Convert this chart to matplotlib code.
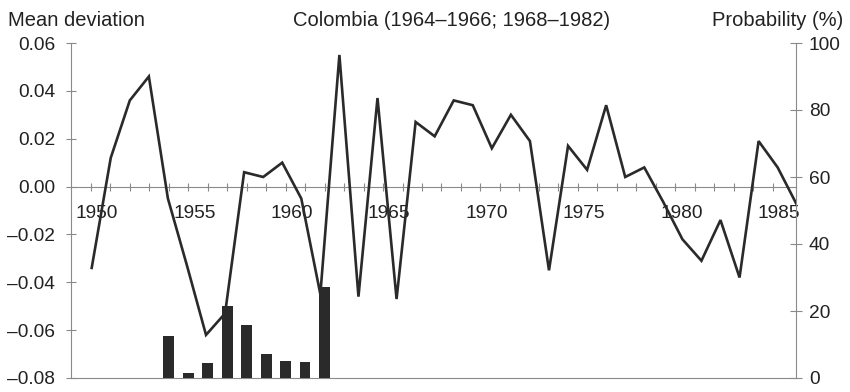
import matplotlib
matplotlib.use("Agg")
import matplotlib.pyplot as plt
from matplotlib.transforms import ScaledTranslation

plt.rcParams["font.family"] = ["Liberation Sans", "DejaVu Sans"]

# ── Data ─────────────────────────────────────────────────────────────────────
line_years = list(range(1950, 1988))
mean_dev = [
    -0.034, 0.012, 0.036, 0.046, -0.005, -0.033, -0.062, -0.053, 0.006, 0.004,
    0.010, -0.005, -0.045, 0.055, -0.046, 0.037, -0.047, 0.027, 0.021, 0.036,
    0.034, 0.016, 0.030, 0.019, -0.035, 0.017, 0.007, 0.034, 0.004, 0.008,
    -0.0065, -0.022, -0.031, -0.014, -0.038, 0.019, 0.008, -0.0075,
]

bar_years = [1954, 1955, 1956, 1957, 1958, 1959, 1960, 1961, 1962]
probability = [12.6, 1.4, 4.6, 21.6, 15.8, 7.1, 5.1, 4.9, 27.1]

tick_years = list(range(1950, 1986))
left_ticks = [-0.08, -0.06, -0.04, -0.02, 0.00, 0.02, 0.04, 0.06]
right_ticks = [0, 20, 40, 60, 80, 100]

TEXT = "#222222"
AXIS = "#8a8a8a"
INK = "#2a2a2a"

# ── Figure / axes ────────────────────────────────────────────────────────────
fig = plt.figure(figsize=(8.5, 3.92), dpi=100)
fig.patch.set_facecolor("white")
ax = fig.add_axes([71 / 850, 14 / 392, 725 / 850, 335 / 392])

ax.set_xlim(1948.98, 1986.2)
ax.set_ylim(-0.08, 0.06)

# year axis runs along the zero line
for side in ("top", "right"):
    ax.spines[side].set_visible(False)
ax.spines["bottom"].set_position(("data", 0))
for side in ("left", "bottom"):
    ax.spines[side].set_color(AXIS)
    ax.spines[side].set_linewidth(0.8)

ax.set_xticks(tick_years)
ax.set_xticklabels([str(y) if y % 5 == 0 else "" for y in tick_years])
ax.tick_params(axis="x", direction="inout", length=6, width=0.8, color=AXIS,
               pad=10, labelsize=13.8, labelcolor=TEXT)
for lab in ax.get_xticklabels():
    lab.set_transform(lab.get_transform() + ScaledTranslation(0.062, 0, fig.dpi_scale_trans))

ax.set_yticks(left_ticks)
ax.set_yticklabels([f"{v:.2f}".replace("-", "\u2013") for v in left_ticks])
ax.tick_params(axis="y", direction="inout", length=7, width=0.8, color=AXIS,
               pad=8, labelsize=13.8, labelcolor=TEXT)

# probability bars on the right-hand scale
ax2 = ax.twinx()
ax2.set_ylim(0, 100)
ax2.set_yticks(right_ticks)
ax2.set_yticklabels([str(v) for v in right_ticks])
for side in ("left", "top"):
    ax2.spines[side].set_visible(False)
for side in ("right", "bottom"):
    ax2.spines[side].set_color(AXIS)
    ax2.spines[side].set_linewidth(0.8)
ax2.tick_params(axis="y", direction="inout", length=8.5, width=0.8, color=AXIS,
                pad=5, labelsize=13.8, labelcolor=TEXT)
ax2.tick_params(axis="x", bottom=False, labelbottom=False)
ax2.bar(bar_years, probability, width=0.55, color=INK, zorder=3)

# mean deviation series on its own year scale
ax_line = ax.twiny()
ax_line.set_xlim(1948.914, 1986.963)
ax_line.axis("off")
ax_line.plot(line_years, mean_dev, color=INK, linewidth=1.9, solid_joinstyle="miter")

# ── Headings ─────────────────────────────────────────────────────────────────
fig.text(8 / 850, 1 - 25.5 / 392, "Mean deviation", ha="left", va="baseline",
         fontsize=14.5, color=TEXT)
fig.text(452 / 850, 1 - 25.5 / 392, "Colombia (1964\u20131966; 1968\u20131982)",
         ha="center", va="baseline", fontsize=14.5, color=TEXT)
fig.text(843 / 850, 1 - 25.5 / 392, "Probability (%)", ha="right", va="baseline",
         fontsize=14.5, color=TEXT)

fig.savefig("out.png", dpi=100, facecolor=fig.get_facecolor())
plt.close(fig)
